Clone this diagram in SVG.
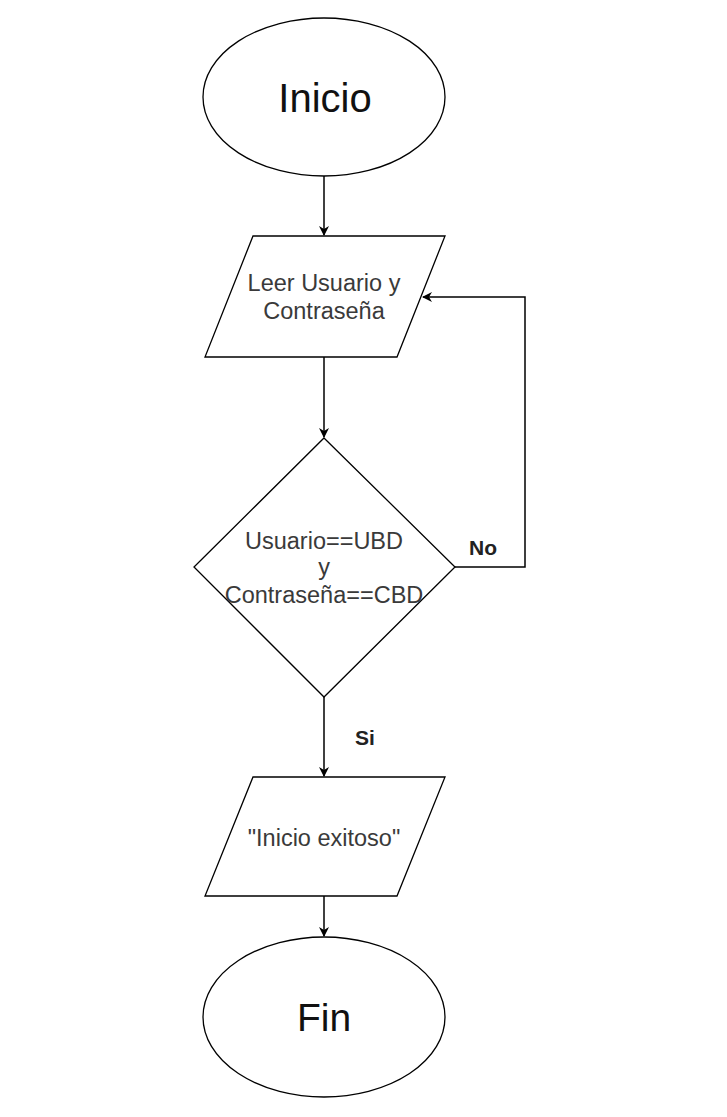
<svg xmlns="http://www.w3.org/2000/svg" width="727" height="1117" viewBox="0 0 727 1117">
<style>
.s{fill:#fff;stroke:#000;stroke-width:1.3}
.c{fill:none;stroke:#000;stroke-width:1.5}
.t{font-family:"Liberation Sans",Arial,sans-serif;fill:#3a3a3a;text-anchor:middle;font-size:23.5px}
.b{font-family:"Liberation Sans",Arial,sans-serif;font-weight:bold;fill:#222;font-size:21px}
.big{font-family:"Liberation Sans",Arial,sans-serif;fill:#111;text-anchor:middle}
</style>
<defs>
<marker id="a" viewBox="0 0 10 10" refX="9" refY="5" markerWidth="10" markerHeight="10" markerUnits="userSpaceOnUse" orient="auto">
<path d="M0,0 L10,5 L0,10 L3,5 Z" fill="#000"/>
</marker>
</defs>
<rect width="727" height="1117" fill="#fff"/>
<g id="connectors">
<line class="c" x1="324" y1="176" x2="324" y2="235" marker-end="url(#a)"/>
<line class="c" x1="324" y1="357" x2="324" y2="437" marker-end="url(#a)"/>
<polyline class="c" points="455,567 525,567 525,297 423,297" marker-end="url(#a)"/>
<line class="c" x1="324" y1="697" x2="324" y2="776" marker-end="url(#a)"/>
<line class="c" x1="324" y1="896" x2="324" y2="936" marker-end="url(#a)"/>
</g>
<g id="inicio">
<ellipse class="s" cx="324" cy="97" rx="121" ry="79"/>
<text class="big" x="325" y="112" font-size="40">Inicio</text>
</g>
<g id="leer">
<polygon class="s" points="253,236 445,236 397,357 205,357"/>
<text class="t" x="324" y="291">Leer Usuario y</text>
<text class="t" x="324" y="319">Contraseña</text>
</g>
<g id="decision">
<polygon class="s" points="324,438 455,567 324,697 194,567"/>
<text class="t" x="324" y="549">Usuario==UBD</text>
<text class="t" x="324" y="575">y</text>
<text class="t" x="324" y="603">Contraseña==CBD</text>
</g>
<g id="label-no"><text class="b" x="469" y="555">No</text></g>
<g id="label-si"><text class="b" x="355" y="745">Si</text></g>
<g id="exito">
<polygon class="s" points="253,777 445,777 397,896 205,896"/>
<text class="t" x="324" y="846">"Inicio exitoso"</text>
</g>
<g id="fin">
<ellipse class="s" cx="324" cy="1017" rx="121" ry="80"/>
<text class="big" x="324" y="1031" font-size="39">Fin</text>
</g>
</svg>
